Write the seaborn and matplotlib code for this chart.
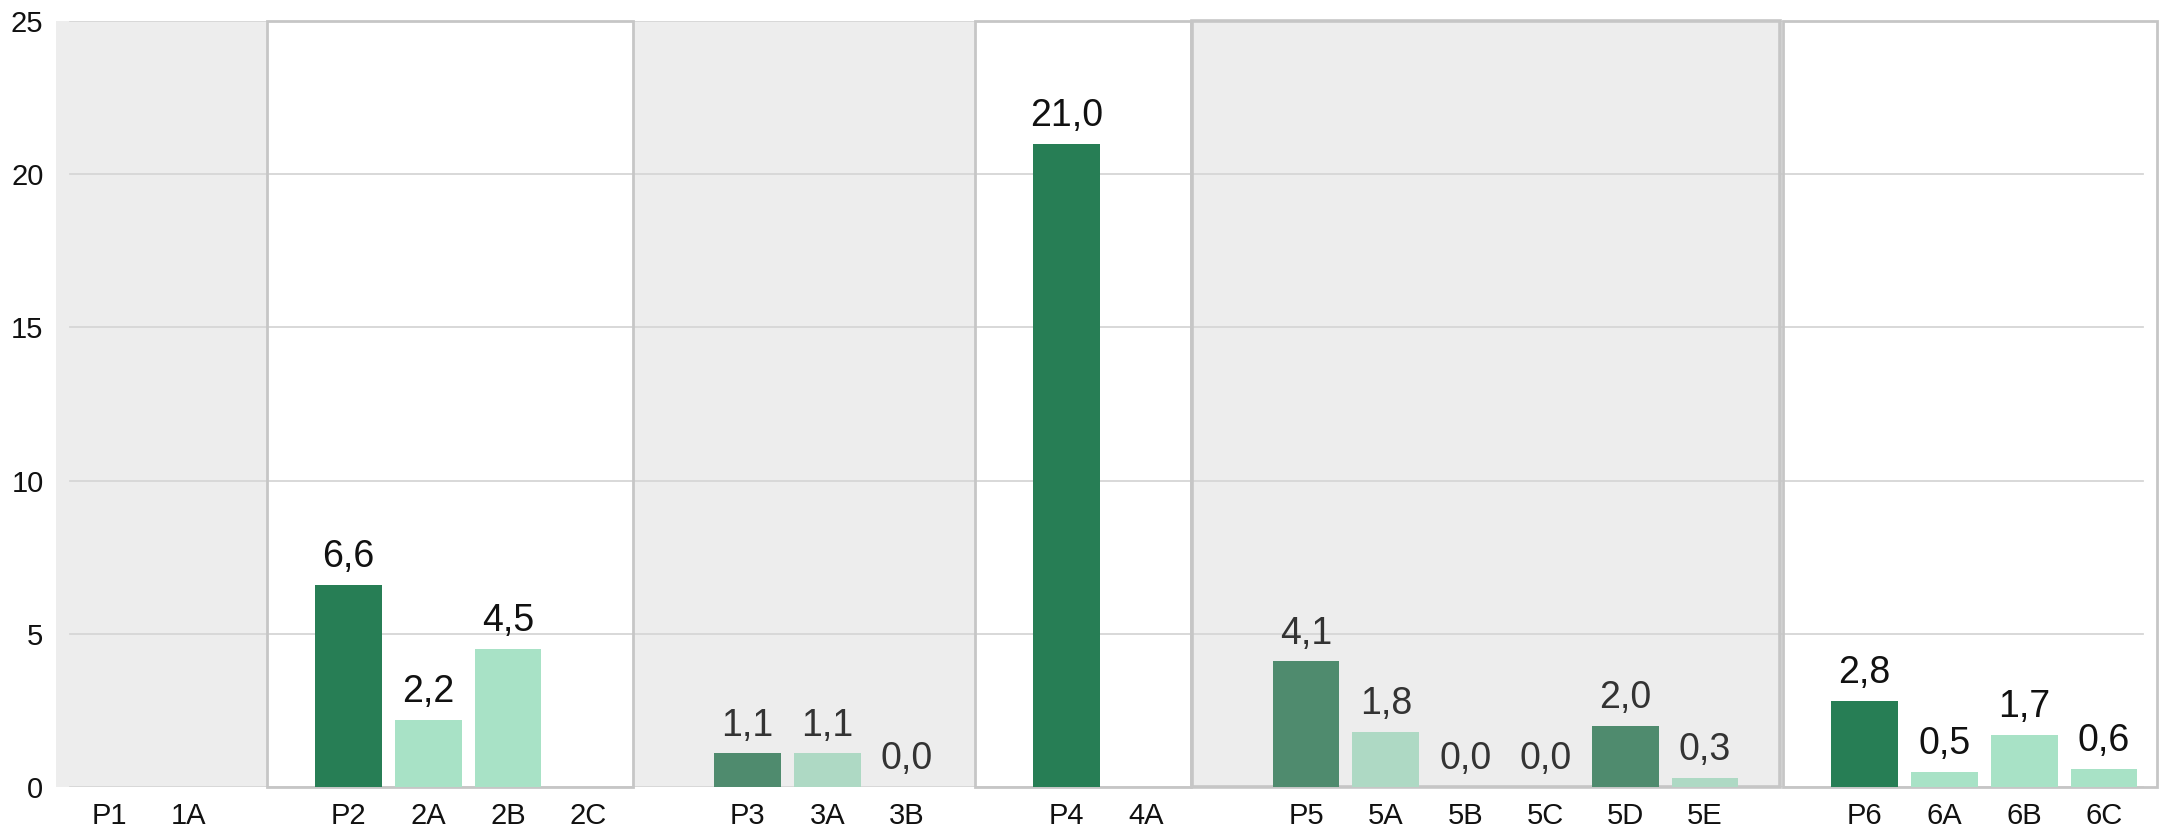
import numpy as np
import pandas as pd
import matplotlib
matplotlib.use("Agg")
import matplotlib.pyplot as plt
from matplotlib.patches import Rectangle
import seaborn as sns

plt.rcParams['font.family'] = ['Liberation Sans', 'DejaVu Sans']

# ---- data ----
categories = ["P1", "1A", "P2", "2A", "2B", "2C", "P3", "3A", "3B", "P4", "4A",
              "P5", "5A", "5B", "5C", "5D", "5E", "P6", "6A", "6B", "6C"]
groups = [1, 1, 2, 2, 2, 2, 3, 3, 3, 4, 4, 5, 5, 5, 5, 5, 5, 6, 6, 6, 6]
values = [np.nan, np.nan, 6.6, 2.2, 4.5, np.nan, 1.1, 1.1, 0.0, 21.0, np.nan,
          4.1, 1.8, 0.0, 0.0, 2.0, 0.3, 2.8, 0.5, 1.7, 0.6]
levels = ["P", "S", "P", "S", "S", "S", "P", "S", "S", "P", "S",
          "P", "S", "S", "S", "P", "S", "P", "S", "S", "S"]
y_ticks = [0, 5, 10, 15, 20, 25]

# ---- styles ----
faded_groups = {3, 5}
palette = {"P": "#277e55", "S": "#a8e2c6", "Pf": "#4f8b6e", "Sf": "#aed9c4"}
label_colors = {1: "#111111", 2: "#111111", 3: "#333333", 4: "#111111",
                5: "#333333", 6: "#111111"}
bg_gray = "#ededed"
border = "#c6c6c6"

df = pd.DataFrame({"cat": categories, "group": groups, "value": values,
                   "level": levels})
df["kind"] = [lv + ("f" if g in faded_groups else "")
              for lv, g in zip(df["level"], df["group"])]

# order with one empty slot between groups
order = []
gap_n = 0
prev = None
for c, g in zip(categories, groups):
    if prev is not None and g != prev:
        gap_n += 1
        order.append(" " * gap_n)
    order.append(c)
    prev = g
pos = {c: i for i, c in enumerate(order)}

fig = plt.figure(figsize=(21.64, 8.35), dpi=100)
ax = fig.add_axes([56 / 2164, 1 - 787 / 835, 1 - 56 / 2164, (787 - 21) / 835])

plot_df = df.dropna(subset=["value"])
sns.barplot(data=plot_df, x="cat", y="value", hue="kind", order=order,
            palette=palette, dodge=False, width=0.835, errorbar=None,
            legend=False, saturation=1, ax=ax, zorder=2)

x_left = (56 - 109) / 79.8
x_right = (2164 - 109) / 79.8
ax.set_xlim(x_left, x_right)
ax.set_ylim(0, 25)

# group panels (background / frames)
panels = [
    # (x0, x1, fill, framed, lw)
    (x_left, 1.98, bg_gray, False, 0),
    (1.98, 6.57, "white", True, 2.0),
    (6.57, 10.85, bg_gray, False, 0),
    (10.85, 13.56, "white", True, 2.0),
    (13.57, 20.94, bg_gray, True, 2.6),
    (20.98, 25.66, "white", True, 2.0),
]
for x0, x1, fill, framed, lw in panels:
    ax.add_patch(Rectangle((x0, 0), x1 - x0, 25, facecolor=fill,
                           edgecolor="none", zorder=0.1))
for x0, x1, fill, framed, lw in panels:
    if framed:
        ax.add_patch(Rectangle((x0, 0), x1 - x0, 25, facecolor="none",
                               edgecolor=border, lw=lw, zorder=1.5,
                               clip_on=False))

for yv in y_ticks:
    ax.axhline(yv, xmin=14 / 2108, xmax=0.99, color="#d6d6d6", lw=1.3,
               zorder=0.5)

# value labels
for c, g, v in zip(categories, groups, values):
    if np.isnan(v):
        continue
    ax.annotate(f"{v:.1f}".replace(".", ","), xy=(pos[c], v),
                xytext=(0, 7), textcoords="offset points",
                ha="center", va="bottom", fontsize=27,
                color=label_colors[g], zorder=4)

ax.set_yticks(y_ticks)
ax.set_yticklabels([str(t) for t in y_ticks])
ax.tick_params(axis="y", length=0, pad=9, labelsize=21, colors="#111111")
ax.tick_params(axis="x", length=0, pad=11, labelsize=21, colors="#111111")
ax.set_xlabel("")
ax.set_ylabel("")
for s in ax.spines.values():
    s.set_visible(False)
ax.set_facecolor("white")
ax.grid(False)

fig.savefig("out.png", dpi=100, facecolor="white")
